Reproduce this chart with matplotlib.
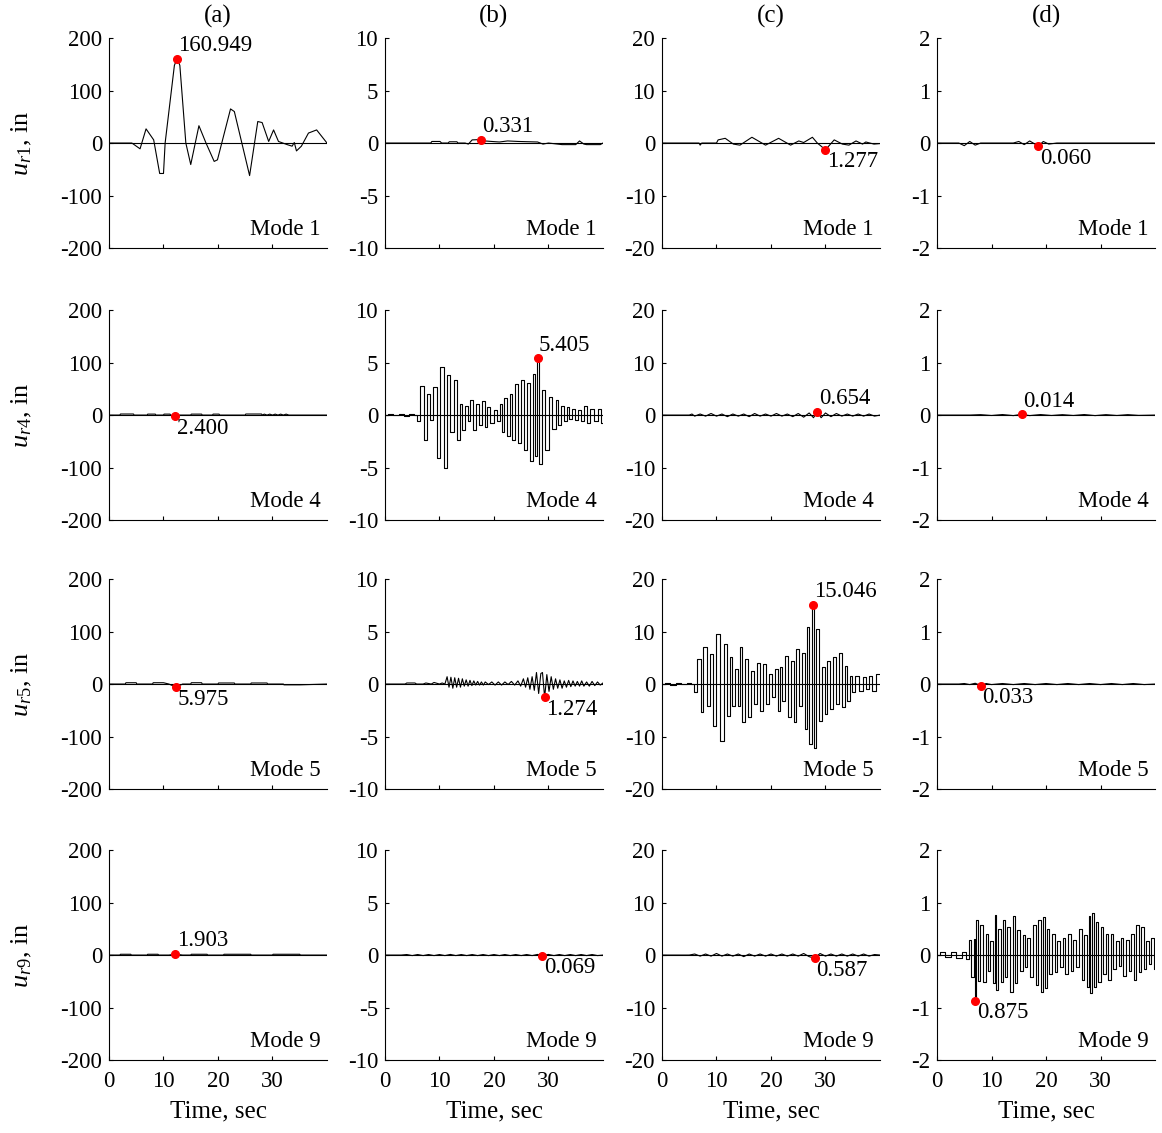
import matplotlib
matplotlib.use("Agg")
import matplotlib.pyplot as plt
import numpy as np

plt.rcParams['font.family'] = ['Liberation Serif', 'DejaVu Serif']
plt.rcParams['mathtext.fontset'] = 'custom'
plt.rcParams['mathtext.rm'] = 'Liberation Serif'
plt.rcParams['mathtext.it'] = 'Liberation Serif:italic'
plt.rcParams['axes.unicode_minus'] = False

# column titles, row labels, y limits per column
col_titles = ['(a)', '(b)', '(c)', '(d)']
row_modes = [1, 4, 5, 9]
row_ylabels = [r'$u_{\mathit{r1}}$, in', r'$u_{\mathit{r4}}$, in',
               r'$u_{\mathit{r5}}$, in', r'$u_{\mathit{r9}}$, in']
col_ylim = [200, 10, 20, 2]
col_yticks = [[-200, -100, 0, 100, 200], [-10, -5, 0, 5, 10],
              [-20, -10, 0, 10, 20], [-2, -1, 0, 1, 2]]

# ---- row 1 (mode 1) ----
t_a1 = [0, 4.2, 5.7, 6.8, 8.2, 9.3, 10.0, 10.3, 12.0, 12.5, 13.0, 14.1, 15.0, 16.5, 17.8, 19.3, 19.9,
        22.3, 23.0, 25.8, 27.3, 28.1, 29.3, 30.2, 31.1, 32.7, 33.6, 34.0, 34.4, 35.3, 36.6, 38.1, 40]
u_a1 = [0, 0, -11, 27, 6, -58, -58, 0, 148, 160.949, 148, 0, -41, 33, 0, -35, -32,
        65, 60, -62, 41, 39, 3, 25, 3, -3, -6, 1, -15, -6, 19, 25, 0]
t_b1 = [0, 8.4, 8.6, 10.1, 10.4, 11.6, 11.8, 13.2, 13.4, 14.7, 15.3, 16.0, 17.6, 18.3, 19.6,
        21.0, 22.5, 24.5, 28.0, 29.0, 30.0, 32.5, 35.0, 35.7, 36.5, 37.0, 39.5, 40]
u_b1 = [0, 0, 0.15, 0.15, 0, 0, 0.12, 0.12, 0, 0, -0.1, 0.3, 0.331, 0.2, 0.15,
        0.1, 0.2, 0.15, 0.1, -0.1, 0, -0.15, -0.15, 0.2, -0.1, -0.15, -0.15, 0]
t_c1 = [0, 6.8, 7.0, 7.3, 10.0, 10.3, 11.6, 13.1, 14.3, 16.5, 19.0, 21.4, 23.6, 25.1, 26.0,
        27.6, 28.5, 30.0, 31.6, 33.1, 34.3, 35.6, 36.8, 37.4, 38.9, 40]
u_c1 = [0, 0, -0.4, 0, 0, 0.6, 0.9, -0.2, -0.4, 1.1, -0.4, 0.9, -0.4, 0.4, 0.1,
        1.1, 0, -1.277, 0.6, -0.2, -0.4, 0.4, -0.2, 0.2, -0.2, -0.1]
t_d1 = [0, 4, 5, 6, 7, 8, 14, 15, 16, 17, 18.6, 19.5, 20.5, 22, 40]
u_d1 = [0, 0, -0.05, 0.03, -0.04, 0, 0, 0.03, -0.03, 0.04, -0.06, 0.03, -0.02, 0, 0]

# ---- row 2 (mode 4) ----
t_a2 = [0, 2, 2.1, 4.5, 4.6, 7, 7.1, 8.5, 8.6, 10, 10.1, 11.2, 11.3, 12.2, 13, 15, 15.1, 17,
        17.1, 19, 19.1, 20.2, 20.3, 25, 25.1, 28, 28.1, 28.5, 29, 29.5, 30, 30.5, 31, 31.5,
        32, 32.5, 33, 40]
u_a2 = [0, 0, 2, 2, 0, 0, 1.8, 1.8, 0, 0, 1.8, 1.8, 0, -2.4, 0, 0, 1.8, 1.8,
        0, 0, 1.8, 1.8, 0, 0, 2, 2, 0, 1.8, 0, 1.8, 0, 1.8, 0, 1.8,
        0, 1.8, 0, 0]
t_b2 = [0, 1, 2, 3, 4, 5, 5.8, 6.1, 6.75, 7.5, 8.1, 8.6, 9.2, 9.8, 10.4, 11.2, 11.7, 12.3,
        13.0, 13.5, 14.0, 14.4, 15.0, 15.3, 16.0, 16.4, 17.1, 17.5, 18.1, 18.5, 19.1, 19.6,
        20.3, 20.9, 21.2, 21.6, 22.2, 22.6, 23.2, 23.6, 24.2, 24.8, 25.3, 25.8, 26.4, 27.0,
        27.3, 27.7, 28.0, 28.5, 29.1, 29.8, 30.4, 31.0, 31.6, 32.0, 32.5, 33.1, 33.6, 34.1,
        34.5, 35.1, 35.6, 36.2, 36.8, 37.4, 38.0, 38.7, 39.3, 39.9]
u_b2 = [0, 0.1, 0, 0.1, -0.05, 0.1, 0, -0.6, 2.8, -2.4, 2.0, -0.5, 2.7, -4.1, 4.6, -5.0, 3.8, -1.6,
        3.3, -2.4, 1.1, -1.4, 0.9, -0.6, 1.4, -1.4, 1.1, -0.9, 1.3, -1.1, 0.8, -0.8,
        0.5, -0.6, 1.1, -1.6, 1.6, -2.0, 2.0, -2.4, 3.0, -2.7, 3.3, -3.3, 3.1, -4.4,
        3.9, -3.9, 5.405, -4.7, 2.4, -3.3, 1.7, -1.3, 1.4, -0.9, 0.9, -0.6, 0.8, -0.4,
        0.6, -0.5, 0.5, -0.6, 0.9, -0.8, 0.6, -0.6, 0.6, -0.8]
t_c2 = [0, 5, 5.5, 6, 7, 8, 9, 10, 11, 12, 13, 14, 15, 16, 17, 18, 19, 20, 21, 22, 23, 24, 25,
        26, 27, 27.8, 28.5, 29.2, 30, 31, 32, 33, 34, 35, 36, 37, 38, 39, 40]
u_c2 = [0, 0, 0.2, -0.2, 0.2, -0.2, 0.3, -0.2, 0.2, -0.3, 0.2, -0.2, 0.2, -0.3, 0.3, -0.2,
        0.2, -0.2, 0.3, -0.2, 0.2, -0.3, 0.3, -0.4, 0.4, -0.5, 0.654, -0.5, 0.4, -0.3, 0.3,
        -0.2, 0.2, -0.2, 0.2, -0.2, 0.2, -0.2, 0]
t_d2 = [0, 6, 8, 10, 12, 14, 15.5, 17, 19, 21, 23, 25, 27, 29, 31, 33, 35, 37, 40]
u_d2 = [0, 0, 0.008, -0.008, 0.01, -0.01, 0.014, -0.01, 0.01, -0.008, 0.008, -0.008, 0.01,
        -0.01, 0.008, -0.008, 0.008, -0.006, 0]

# ---- row 3 (mode 5) ----
t_a3 = [0, 3, 3.1, 5, 5.1, 8, 8.1, 10, 11, 12.3, 13.5, 15, 15.1, 17, 17.1, 20, 20.1, 23, 23.1,
        26, 26.1, 29, 29.1, 32, 32.1, 35, 40]
u_a3 = [0, 0, 2.5, 2.5, 0, 0, 2.5, 2.5, 0, -5.975, 0, 0, 2.5, 2.5, 0, 0, 2, 2, 0,
        0, 2, 2, 0, 0, -1.5, -1.5, 0]
t_b3 = [0, 2, 3.7, 4, 5.5, 5.8, 7, 7.5, 8.5, 9, 10, 10.5, 11.0,
        11.4, 11.75, 12.1, 12.45, 12.8, 13.15, 13.5, 13.85, 14.2, 14.55, 14.9, 15.25, 15.6,
        15.95, 16.3, 16.65, 17.0, 17.35, 17.7, 18.05, 18.4, 19, 19.6, 20.2, 20.8, 21.4, 22,
        22.6, 23.2, 23.8, 24.4, 24.9, 25.4, 25.8, 26.2, 26.6, 27.0, 27.4, 27.8, 28.2, 28.6,
        28.9, 29.3, 29.7, 30.1, 30.5, 30.9, 31.3, 31.7, 32.1, 32.5, 32.9, 33.3, 33.7, 34.1,
        34.5, 34.9, 35.3, 35.7, 36.1, 36.5, 37, 37.5, 38, 38.5, 39, 39.5, 40]
u_b3 = [0, 0, 0, 0.1, 0.1, 0, 0, 0.1, 0, 0.15, 0, 0.1, 0,
        0.7, -0.3, 0.65, -0.4, 0.6, -0.3, 0.55, -0.3, 0.5, -0.2, 0.4, -0.2, 0.35,
        -0.15, 0.3, -0.1, 0.25, -0.1, 0.2, -0.1, 0.2, -0.05, 0.2, -0.1, 0.2, -0.1, 0.2,
        -0.05, 0.25, -0.1, 0.3, -0.2, 0.5, -0.3, 0.6, -0.5, 0.7, -0.6, 1.1, -0.9, 1.0,
        1.1, -1.274, 0.9, -0.7, 0.7, -0.5, 0.5, -0.4, 0.4, -0.4, 0.3, -0.3, 0.35, -0.25,
        0.3, -0.2, 0.25, -0.2, 0.3, -0.2, 0.2, -0.2, 0.25, -0.15, 0.2, -0.1, 0.1]
t_c3 = [0, 1, 2, 3, 4, 5, 5.77, 6.08, 6.87, 7.3, 7.9, 8.5, 9.1, 9.6, 10.4, 11.0, 11.6, 12.2,
        12.6, 13.1, 13.7, 14.1, 14.5, 15.0, 15.6, 16.1, 16.5, 17.1, 17.7, 18.4, 18.8, 19.4,
        19.9, 20.5, 21.0, 21.4, 21.9, 22.3, 22.8, 23.3, 23.9, 24.4, 24.9, 25.4, 26.0, 26.5,
        26.8, 27.3, 27.65, 28.1, 28.6, 29.1, 29.7, 30.1, 30.6, 31.2, 31.7, 32.2, 32.8, 33.3,
        33.8, 34.2, 34.7, 35.2, 35.8, 36.5, 37.1, 37.7, 38.3, 38.9, 39.8]
u_c3 = [0, 0.2, -0.1, 0.2, 0, 0.2, 0, -1.6, 4.8, -5.4, 7.0, -4.1, 5.7, -7.9, 9.5, -10.8, 7.6, -6.0,
        5.1, -4.1, 2.9, -4.1, 7.0, -7.3, 4.8, -6.3, 2.5, -3.8, 4.1, -5.1, 3.8, -3.8,
        1.9, -2.5, 2.9, -5.1, 3.2, -3.2, 5.4, -6.3, 4.4, -7.3, 6.7, -4.1, 6.0, -8.6,
        10.8, -11.4, 15.046, -12.1, 10.5, -7.0, 3.2, -5.7, 4.4, -4.8, 5.1, -3.8, 6.0, -4.4,
        3.5, -3.2, 1.6, -1.6, 1.6, -1.3, 1.3, -1.0, 1.6, -1.3, 1.9]
t_d3 = [0, 4, 5, 6, 7, 8.1, 9, 10, 12, 14, 16, 18, 20, 22, 24, 26, 28, 30, 32, 34, 36, 38, 40]
u_d3 = [0, 0, 0.01, -0.01, 0.015, -0.033, 0.01, -0.01, 0.01, -0.01, 0.01, -0.01, 0.01, -0.01,
        0.01, -0.01, 0.01, -0.01, 0.01, -0.01, 0.01, -0.01, 0]

# ---- row 4 (mode 9) ----
t_a4 = [0, 2, 2.1, 4, 4.1, 7, 7.1, 9, 9.1, 11, 12.2, 13.5, 15, 15.1, 18, 18.1, 21, 21.1, 26,
        26.1, 30, 30.1, 35, 35.1, 40]
u_a4 = [0, 0, 1.5, 1.5, 0, 0, 1.5, 1.5, 0, 0, 1.903, 0, 0, 1.5, 1.5, 0, 0, 1.5, 1.5,
        0, 0, 1.5, 1.5, 0, 0]
t_b4 = [0, 3, 4, 5, 6, 7, 8, 9, 10, 11, 12, 13, 14, 15, 16, 17, 18, 19, 20, 21, 22, 23, 24, 25,
        26, 27, 28, 28.9, 30, 31, 32, 33, 34, 35, 36, 37, 38, 39, 40]
u_b4 = [0, 0, 0.05, -0.05, 0.05, -0.05, 0.05, -0.05, 0.05, -0.05, 0.06, -0.05, 0.05, -0.05,
        0.05, -0.05, 0.05, -0.05, 0.05, -0.05, 0.05, -0.05, 0.05, -0.05, 0.05, -0.05, 0.06,
        -0.069, 0.06, -0.05, 0.05, -0.05, 0.05, -0.05, 0.05, -0.05, 0.05, -0.05, 0]
t_c4 = [0, 5, 6, 7, 8, 9, 10, 11, 12, 13, 14, 15, 16, 17, 18, 19, 20, 21, 22, 23, 24, 25, 26,
        27, 28.0, 29, 30, 31, 32, 33, 34, 35, 36, 37, 38, 39, 40]
u_c4 = [0, 0, 0.2, -0.2, 0.2, -0.2, 0.3, -0.2, 0.2, -0.2, 0.2, -0.3, 0.2, -0.2, 0.2, -0.2,
        0.2, -0.2, 0.2, -0.2, 0.2, -0.2, 0.3, -0.3, -0.587, 0.3, -0.2, 0.2, -0.2, 0.2, -0.2,
        0.2, -0.2, 0.2, -0.2, 0.1, 0]
t_d4 = [0, 1, 2, 3, 4, 5, 5.8, 6.08, 6.5, 6.9, 7.05, 7.4, 7.7, 8.2, 8.7, 9.1, 9.5, 10.1, 10.4,
        10.7, 11.0, 11.4, 11.9, 12.2, 12.7, 13.1, 13.7, 14.2, 14.5, 15.0, 15.5, 15.9, 16.3,
        16.8, 17.3, 18.0, 18.4, 18.8, 19.3, 19.6, 19.9, 20.4, 20.8, 21.4, 21.9, 22.3, 22.8,
        23.3, 23.8, 24.3, 24.7, 25.3, 25.7, 26.3, 26.8, 27.3, 27.6, 28.0, 28.3, 28.6, 29.0,
        29.4, 29.8, 30.3, 30.7, 31.2, 31.7, 32.0, 32.5, 33.1, 33.5, 34.0, 34.4, 34.9, 35.4,
        35.8, 36.3, 36.8, 37.2, 37.7, 38.2, 38.6, 39.1, 39.5, 40.0]
u_d4 = [0, 0.05, -0.03, 0.05, -0.05, 0.06, -0.08, 0.29, -0.42, 0.3, -0.875, 0.66, -0.5, 0.57,
        -0.51, 0.41, -0.3, 0.26, -0.54, 0.77, -0.67, 0.5, -0.51, 0.66, -0.42, 0.54, -0.7,
        0.75, -0.54, 0.48, -0.3, 0.38, -0.23, 0.32, -0.42, 0.57, -0.57, 0.66, -0.7, 0.72,
        -0.63, 0.5, -0.36, 0.41, -0.33, 0.26, -0.23, 0.32, -0.36, 0.41, -0.3, 0.29, -0.23,
        0.5, -0.48, 0.38, -0.6, 0.75, -0.73, 0.81, -0.6, 0.63, -0.51, 0.54, -0.36, 0.41,
        -0.48, 0.41, -0.27, 0.26, -0.2, 0.32, -0.39, 0.29, -0.3, 0.41, -0.48, 0.57, -0.33,
        0.54, -0.27, 0.26, -0.17, 0.32, -0.27]

series = [[(t_a1, u_a1), (t_b1, u_b1), (t_c1, u_c1), (t_d1, u_d1)],
          [(t_a2, u_a2), (t_b2, u_b2), (t_c2, u_c2), (t_d2, u_d2)],
          [(t_a3, u_a3), (t_b3, u_b3), (t_c3, u_c3), (t_d3, u_d3)],
          [(t_a4, u_a4), (t_b4, u_b4), (t_c4, u_c4), (t_d4, u_d4)]]

# label above (True) or below (False) the red peak marker
label_above = [[True, True, False, False],
               [False, True, True, True],
               [False, False, True, False],
               [True, False, False, False]]
# dense panels drawn as steps
stepped = {(1, 1), (2, 2), (3, 3)}

fs = 16.5
fig = plt.figure(figsize=(11.62, 11.33), dpi=100)
lefts = [0.0938, 0.3313, 0.5697, 0.8064]
bottoms = [0.7811, 0.5410, 0.3036, 0.0644]
w, h = 0.1876, 0.1853

for r in range(4):
    for c in range(4):
        ax = fig.add_axes([lefts[c], bottoms[r], w, h])
        t, u = series[r][c]
        t = np.array(t)
        u = np.array(u)
        ax.axhline(0, color='black', lw=0.8, zorder=1)
        ds = 'steps-mid' if (r, c) in stepped else 'default'
        ax.plot(t, u, color='black', lw=0.8, drawstyle=ds, zorder=2)
        k = np.argmax(np.abs(u))
        ax.plot(t[k], u[k], 'o', color='red', ms=5.5, zorder=3)
        if label_above[r][c]:
            ax.annotate('%.3f' % abs(u[k]), (t[k], u[k]), xytext=(1, 2),
                        textcoords='offset points', ha='left', va='bottom', fontsize=fs)
        else:
            ax.annotate('%.3f' % abs(u[k]), (t[k], u[k]), xytext=(1, -1),
                        textcoords='offset points', ha='left', va='top', fontsize=fs)
        ax.text(0.97, 0.04, 'Mode %d' % row_modes[r], transform=ax.transAxes,
                ha='right', va='bottom', fontsize=fs)
        ax.set_xlim(0, 40)
        ax.set_ylim(-col_ylim[c], col_ylim[c])
        ax.set_yticks(col_yticks[c])
        ax.set_xticks([0, 10, 20, 30])
        ax.spines['top'].set_visible(False)
        ax.spines['right'].set_visible(False)
        ax.tick_params(direction='in', length=3, labelsize=fs)
        ax.tick_params(axis='y', pad=5)
        ax.tick_params(axis='x', pad=8)
        if r < 3:
            ax.set_xticklabels([])
        else:
            ax.set_xlabel('Time, sec', fontsize=18, labelpad=6)
        if r == 0:
            ax.set_title(col_titles[c], fontsize=18, pad=11)
    fig.text(0.019, bottoms[r] + h / 2, row_ylabels[r], rotation=90, ha='center',
             va='center', fontsize=19)

fig.savefig('out.png', dpi=100)
